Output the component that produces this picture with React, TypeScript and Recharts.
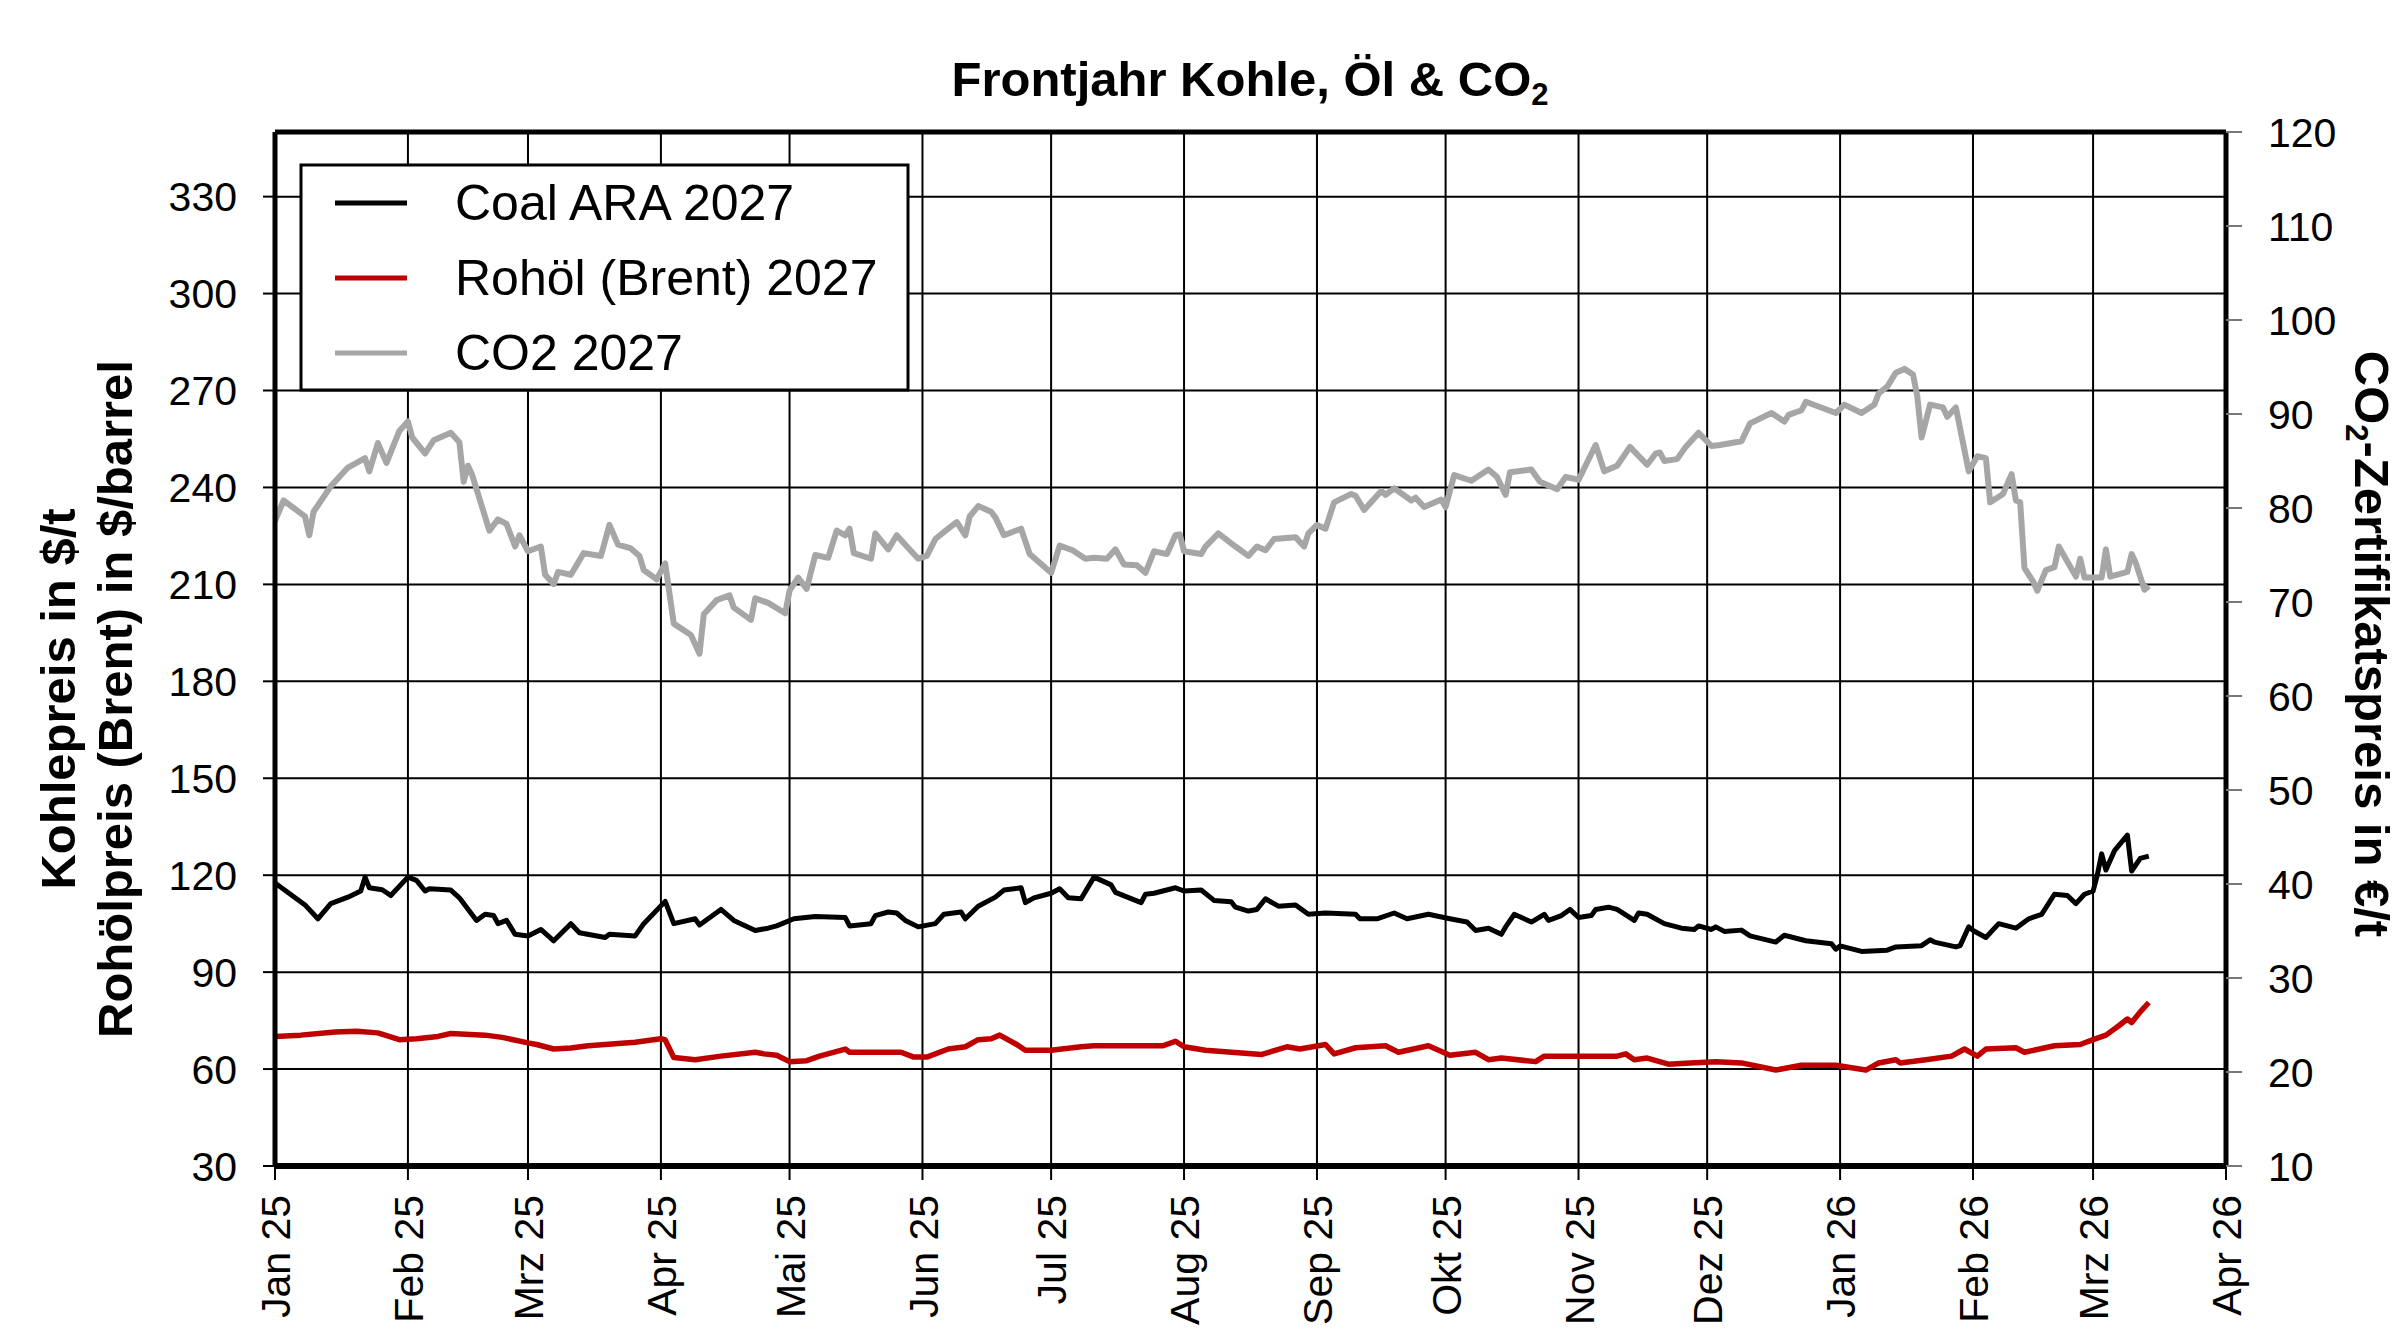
import React from 'react';
import { LineChart, Line, XAxis, YAxis, CartesianGrid, ReferenceLine } from 'recharts';

const FONT = '"Liberation Sans", Arial, Helvetica, sans-serif';

// x axis: days since 1 Jan 2025, one tick per month start
const monthTicks = [0, 31, 59, 90, 120, 151, 181, 212, 243, 273, 304, 334, 365, 396, 424, 455];
const monthLabels = [
  'Jan 25', 'Feb 25', 'Mrz 25', 'Apr 25', 'Mai 25', 'Jun 25', 'Jul 25', 'Aug 25',
  'Sep 25', 'Okt 25', 'Nov 25', 'Dez 25', 'Jan 26', 'Feb 26', 'Mrz 26', 'Apr 26',
];
const priceTicks = [30, 60, 90, 120, 150, 180, 210, 240, 270, 300, 330];
const co2Ticks = [10, 20, 30, 40, 50, 60, 70, 80, 90, 100, 110, 120];

// [day, $/t]
const coalAra: [number, number][] = [
  [0, 117.6], [7, 110.8], [10, 106.5], [13, 111.2], [17, 113.2], [20, 115.1], [21, 119.4], [22, 116.1],
  [25, 115.5], [27, 113.7], [31, 119.4], [33, 118.4], [35, 115.1], [36, 115.8], [41, 115.4], [43, 113.0],
  [47, 106.0], [49, 107.9], [51, 107.5], [52, 105.0], [54, 106.0], [56, 101.7], [59, 101.2], [62, 103.2],
  [65, 99.7], [69, 105.0], [71, 102.2], [77, 100.7], [78, 101.7], [84, 101.2], [86, 105.0], [91, 111.9],
  [93, 105.0], [98, 106.5], [99, 104.6], [104, 109.4], [107, 106.0], [112, 102.9], [115, 103.6], [117, 104.3],
  [121, 106.5], [126, 107.2], [133, 106.9], [134, 104.3], [139, 105.0], [140, 107.5], [143, 108.6], [145, 108.3],
  [147, 106.0], [150, 104.0], [154, 105.0], [156, 107.9], [160, 108.6], [161, 106.5], [164, 110.4], [168, 113.2],
  [170, 115.4], [174, 116.1], [175, 111.5], [177, 113.0], [181, 114.4], [183, 115.8], [185, 113.0], [188, 112.7],
  [191, 119.4], [195, 117.0], [196, 114.7], [202, 111.5], [203, 114.1], [205, 114.4], [210, 116.1], [212, 115.1],
  [216, 115.4], [219, 112.2], [223, 111.8], [224, 110.1], [227, 108.9], [229, 109.4], [231, 112.7], [234, 110.4],
  [238, 110.8], [241, 107.9], [245, 108.3], [252, 107.9], [253, 106.5], [257, 106.5], [261, 108.3], [264, 106.5],
  [269, 107.9], [274, 106.5], [278, 105.5], [280, 102.9], [283, 103.6], [286, 101.7], [287, 104.0], [289, 107.9],
  [293, 105.5], [296, 107.9], [297, 106.0], [300, 107.5], [302, 109.4], [304, 106.9], [307, 107.5], [308, 109.4],
  [311, 110.1], [313, 109.4], [317, 106.0], [318, 108.3], [320, 107.9], [324, 105.0], [328, 103.6], [331, 103.2],
  [332, 104.3], [335, 103.2], [336, 104.0], [338, 102.6], [342, 103.0], [344, 101.2], [350, 99.3], [352, 101.4],
  [357, 99.7], [363, 98.8], [364, 97.1], [365, 98.1], [370, 96.4], [376, 96.8], [378, 97.8], [384, 98.2],
  [386, 100.0], [387, 99.3], [392, 97.8], [393, 98.2], [395, 104.0], [396, 102.9], [399, 100.7], [402, 105.0],
  [406, 103.6], [409, 106.5], [412, 107.9], [415, 114.1], [418, 113.7], [420, 111.2], [422, 114.1], [424, 115.1],
  [425, 120.1], [426, 126.6], [427, 121.6], [429, 127.6], [432, 132.4], [433, 121.3], [435, 125.2], [437, 125.9],
];

// [day, $/barrel]
const brent: [number, number][] = [
  [0, 70.1], [6, 70.5], [14, 71.5], [19, 71.7], [24, 71.2], [29, 69.1], [33, 69.4], [38, 70.1],
  [41, 71.0], [49, 70.5], [53, 69.8], [59, 68.1], [61, 67.6], [65, 66.2], [69, 66.5], [73, 67.2],
  [77, 67.6], [84, 68.3], [90, 69.4], [91, 69.0], [93, 63.6], [98, 62.9], [104, 64.0], [112, 65.2],
  [114, 64.7], [117, 64.3], [120, 62.3], [124, 62.6], [127, 64.0], [133, 66.2], [134, 65.2], [146, 65.2],
  [149, 63.7], [152, 63.7], [157, 66.2], [161, 66.9], [164, 69.1], [167, 69.4], [169, 70.5], [173, 67.6],
  [175, 65.8], [181, 65.8], [188, 66.9], [191, 67.2], [207, 67.2], [210, 68.6], [212, 66.9], [217, 65.8],
  [230, 64.5], [236, 66.9], [239, 66.2], [245, 67.6], [247, 64.7], [252, 66.6], [259, 67.2], [262, 65.2],
  [269, 67.2], [274, 64.3], [280, 65.2], [283, 62.9], [286, 63.4], [294, 62.3], [296, 64.0], [313, 64.0],
  [315, 64.7], [317, 62.9], [320, 63.4], [325, 61.5], [330, 61.9], [336, 62.3], [342, 61.9], [350, 59.7],
  [356, 61.2], [364, 61.2], [371, 59.7], [374, 61.9], [378, 62.9], [379, 61.9], [385, 62.9], [391, 64.0],
  [394, 66.2], [397, 64.0], [399, 66.2], [406, 66.6], [408, 65.2], [415, 67.2], [421, 67.6], [424, 69.1],
  [427, 70.5], [430, 73.4], [432, 75.5], [433, 74.4], [435, 77.7], [437, 80.6],
];

// [day, €/t]
const co2: [number, number][] = [
  [0, 78.6], [2, 80.8], [7, 79.1], [8, 77.1], [9, 79.6], [13, 82.3], [17, 84.3], [21, 85.3],
  [22, 83.9], [24, 86.9], [26, 84.8], [29, 88.2], [31, 89.2], [32, 87.5], [35, 85.8], [37, 87.2],
  [41, 88.0], [43, 87.0], [44, 82.8], [45, 84.5], [46, 83.5], [47, 82.0], [50, 77.6], [52, 78.8],
  [54, 78.3], [56, 75.9], [57, 77.1], [59, 75.4], [62, 75.9], [63, 72.9], [65, 71.9], [66, 73.2],
  [69, 72.9], [72, 75.2], [76, 74.9], [78, 78.2], [80, 76.1], [83, 75.7], [85, 74.9], [86, 73.4],
  [89, 72.4], [91, 74.1], [93, 67.7], [97, 66.5], [99, 64.5], [100, 68.7], [103, 70.2], [106, 70.7],
  [107, 69.4], [111, 68.1], [112, 70.4], [115, 69.9], [119, 68.8], [120, 71.2], [122, 72.6], [124, 71.4],
  [126, 75.0], [129, 74.7], [131, 77.6], [133, 77.1], [134, 77.8], [135, 75.2], [139, 74.6], [140, 77.3],
  [143, 75.6], [145, 77.1], [147, 76.1], [150, 74.6], [152, 74.9], [154, 76.7], [157, 77.8], [159, 78.5],
  [161, 77.1], [162, 79.1], [164, 80.2], [167, 79.6], [168, 79.0], [170, 77.1], [174, 77.8], [176, 75.1],
  [177, 74.7], [181, 73.1], [183, 76.0], [186, 75.5], [189, 74.6], [191, 74.7], [194, 74.6], [196, 75.6],
  [198, 74.0], [201, 73.9], [203, 73.1], [205, 75.4], [208, 75.1], [210, 77.1], [211, 77.2], [212, 75.4],
  [216, 75.1], [217, 75.9], [220, 77.3], [224, 75.9], [227, 74.9], [229, 75.9], [231, 75.5], [233, 76.7],
  [238, 76.9], [240, 75.9], [241, 77.3], [243, 78.2], [245, 77.8], [247, 80.6], [251, 81.5], [252, 81.3],
  [254, 79.8], [258, 81.8], [259, 81.4], [261, 82.1], [265, 80.8], [266, 81.1], [268, 80.1], [272, 80.9],
  [273, 80.1], [275, 83.5], [279, 82.9], [283, 84.1], [285, 83.3], [287, 81.4], [288, 83.8], [293, 84.1],
  [295, 82.8], [299, 82.0], [301, 83.3], [304, 83.0], [308, 86.7], [310, 83.9], [313, 84.5], [316, 86.5],
  [320, 84.6], [322, 85.8], [323, 85.9], [324, 85.0], [327, 85.2], [329, 86.5], [332, 88.0], [335, 86.6],
  [337, 86.7], [342, 87.1], [344, 89.0], [349, 90.1], [352, 89.2], [353, 89.9], [356, 90.4], [357, 91.3],
  [364, 90.1], [366, 91.0], [370, 90.1], [373, 91.0], [374, 92.2], [376, 92.9], [378, 94.4], [380, 94.8],
  [382, 94.2], [383, 91.9], [384, 87.5], [386, 91.0], [389, 90.7], [390, 89.7], [392, 90.7], [395, 83.9],
  [397, 85.5], [399, 85.3], [400, 80.6], [403, 81.5], [405, 83.6], [406, 80.8], [407, 80.6], [408, 73.6],
  [410, 72.2], [411, 71.2], [413, 73.4], [415, 73.7], [416, 75.9], [420, 72.7], [421, 74.6], [422, 72.6],
  [426, 72.6], [427, 75.6], [428, 72.7], [432, 73.2], [433, 75.1], [434, 74.1], [436, 71.3], [437, 71.7],
];

const series = [
  { key: 'coal', name: 'Coal ARA 2027', color: '#000000', width: 5, axis: 'left', points: coalAra },
  { key: 'brent', name: 'Rohöl (Brent) 2027', color: '#c00000', width: 5.5, axis: 'left', points: brent },
  { key: 'co2', name: 'CO2 2027', color: '#a6a6a6', width: 6, axis: 'right', points: co2 },
];

// one row per day that any series has a value for
const days = Array.from(new Set(series.flatMap(s => s.points.map(p => p[0])))).sort((a, b) => a - b);
const rows = days.map(day => {
  const row: Record<string, number> = { day };
  series.forEach(s => {
    const hit = s.points.find(p => p[0] === day);
    if (hit) row[s.key] = hit[1];
  });
  return row;
});

function MonthTick({ x, y, payload }: any) {
  const label = monthLabels[monthTicks.indexOf(payload.value)];
  return (
    <text x={x} y={y} transform={`rotate(-90 ${x} ${y})`} textAnchor="end" dy="0.37em"
      fontSize={41} fontFamily={FONT} fill="#000">
      {label}
    </text>
  );
}

export default function App() {
  return (
    <div style={{ position: 'absolute', left: 0, top: 0, width: 2400, height: 1340, background: '#fff', fontFamily: FONT }}>
      <LineChart width={2400} height={1340} data={rows} margin={{ top: 132, right: 64, bottom: 24, left: 175 }}>
        <CartesianGrid yAxisId="left" stroke="#000" strokeWidth={2} />
        <XAxis dataKey="day" type="number" domain={[0, 455]} ticks={monthTicks} interval={0} height={150}
          allowDataOverflow tick={<MonthTick />} tickSize={14} tickMargin={15}
          axisLine={{ stroke: '#000', strokeWidth: 6 }} tickLine={{ stroke: '#000', strokeWidth: 2 }} />
        <YAxis yAxisId="left" domain={[30, 350]} ticks={priceTicks} interval={0} width={100} allowDataOverflow
          tickSize={12} tickMargin={26} tick={{ fill: '#000', fontSize: 41, fontFamily: FONT }}
          axisLine={{ stroke: '#000', strokeWidth: 5 }} tickLine={{ stroke: '#000', strokeWidth: 2 }} />
        <YAxis yAxisId="right" orientation="right" domain={[10, 120]} ticks={co2Ticks} interval={0} width={110}
          allowDataOverflow tickSize={16} tickMargin={26} tick={{ fill: '#000', fontSize: 41, fontFamily: FONT }}
          axisLine={{ stroke: '#000', strokeWidth: 5 }} tickLine={{ stroke: '#777', strokeWidth: 2 }} />
        <ReferenceLine yAxisId="left" y={350} stroke="#000" strokeWidth={5} />
        {series.map(s => (
          <Line key={s.key} yAxisId={s.axis} type="linear" dataKey={s.key} name={s.name} stroke={s.color}
            strokeWidth={s.width} strokeLinejoin="round" dot={false} activeDot={false} connectNulls
            isAnimationActive={false} />
        ))}
      </LineChart>

      <svg width={2400} height={1340} style={{ position: 'absolute', left: 0, top: 0, pointerEvents: 'none' }}
        fontFamily={FONT}>
        <text x={1250} y={96} textAnchor="middle" fontSize={49} fontWeight="bold" fill="#000">
          Frontjahr Kohle, Öl &amp; CO<tspan fontSize={31} dy={9}>2</tspan>
        </text>

        <text x={75} y={699} transform="rotate(-90 75 699)" textAnchor="middle" fontSize={49} fontWeight="bold" fill="#000">
          Kohlepreis in $/t
        </text>
        <text x={132} y={699} transform="rotate(-90 132 699)" textAnchor="middle" fontSize={49} fontWeight="bold" fill="#000">
          Rohölpreis (Brent) in $/barrel
        </text>

        <text x={2355} y={644} transform="rotate(90 2355 644)" textAnchor="middle" fontSize={49} fontWeight="bold" fill="#000">
          CO<tspan fontSize={31} dy={9}>2</tspan><tspan dy={-9}>-Zertifikatspreis in €/t</tspan>
        </text>

        <rect x={301} y={165} width={607} height={225} fill="#fff" stroke="#000" strokeWidth={3} />
        {series.map((s, i) => (
          <g key={s.key}>
            <line x1={335} x2={407} y1={203 + i * 75} y2={203 + i * 75} stroke={s.color} strokeWidth={5} />
            <text x={455} y={220 + i * 75} fontSize={50} fill="#000">{s.name}</text>
          </g>
        ))}
      </svg>
    </div>
  );
}
